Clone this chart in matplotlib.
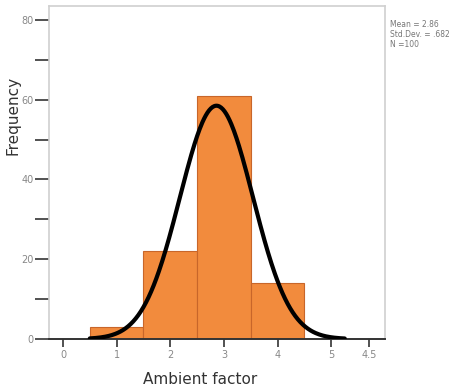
import numpy as np
import matplotlib.pyplot as plt
from matplotlib.ticker import MultipleLocator

# histogram of the ambient factor scores
bin_centers = [1, 2, 3, 4]
counts = [3, 22, 61, 14]
bin_width = 1.0

# summary statistics printed beside the plot
mean = 2.86
std_dev = 0.682
n_cases = 100

x_ticks = [0, 1, 2, 3, 4, 5, 5.7]
x_tick_labels = ['0', '1', '2', '3', '4', '5', '4.5']
y_ticks = [0, 20, 40, 60, 80]

fig = plt.figure(figsize=(4.62, 3.89), dpi=100)
ax = fig.add_axes([49 / 462, 1 - 339 / 389, (385 - 49) / 462, (339 - 6) / 389])

ax.bar(bin_centers, counts, width=bin_width, color='#F28B3D',
       edgecolor='#C8662A', linewidth=0.8, zorder=2)

# fitted normal curve scaled to the histogram
xs = np.linspace(0.5, 5.25, 300)
ys = n_cases * bin_width / (std_dev * np.sqrt(2 * np.pi)) * \
    np.exp(-0.5 * ((xs - mean) / std_dev) ** 2)
ax.plot(xs, ys, color='black', linewidth=3, solid_capstyle='round', zorder=3)

ax.set_xlim(-0.26, 6.0)
ax.set_ylim(0, 83.5)

ax.set_xticks(x_ticks)
ax.set_xticklabels(x_tick_labels)
ax.set_yticks(y_ticks)
ax.yaxis.set_minor_locator(MultipleLocator(10))

ax.tick_params(axis='x', direction='out', length=6, width=1.2, color='#333333',
               labelsize=7, labelcolor='#888888', pad=2)
ax.tick_params(axis='y', which='major', direction='out', length=10, width=1.2,
               color='#333333', labelsize=7, labelcolor='#888888', pad=1)
ax.tick_params(axis='y', which='minor', direction='out', length=10, width=1.2,
               color='#333333')

for side in ['top', 'right', 'left']:
    ax.spines[side].set_color('#d0d0d0')
    ax.spines[side].set_linewidth(1.2)
ax.spines['bottom'].set_color('#333333')
ax.spines['bottom'].set_linewidth(1.4)

ax.set_xlabel('Ambient factor', fontsize=11, color='#333333')
ax.xaxis.set_label_coords(0.45, -0.1)
ax.set_ylabel('Frequency', fontsize=11, color='#333333')
ax.yaxis.set_label_coords(-0.085, 0.67)

stats = 'Mean = {:.2f}\nStd.Dev. = {}\nN ={}'.format(mean, '.682', n_cases)
fig.text(390 / 462, 1 - 20 / 389, stats, fontsize=5.5, color='#777777',
         va='top', ha='left', linespacing=1.15)

fig.savefig('out.png', dpi=100)
